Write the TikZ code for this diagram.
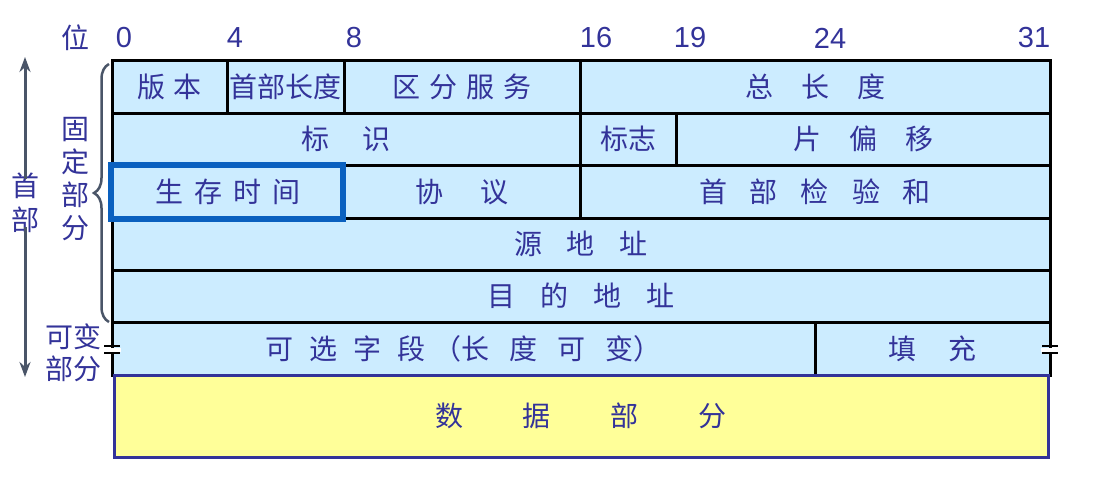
\documentclass[tikz,border=0pt]{standalone}
\usepackage{fontspec}
\setmainfont{Liberation Sans}
\newfontfamily\cjk{Noto Sans CJK SC}
\usetikzlibrary{decorations.pathreplacing,arrows.meta}
\definecolor{cellblue}{HTML}{CCECFF}
\definecolor{txt}{HTML}{333399}
\definecolor{datay}{HTML}{FFFF99}
\definecolor{hl}{HTML}{0A60BF}
\definecolor{slate}{HTML}{4A5568}
\newcommand\gp[1]{\hspace{#1pt}}
\begin{document}
\begin{tikzpicture}[x=1pt,y=-1pt,
  cell/.style={draw=black,line width=3pt,fill=cellblue,inner sep=0pt,text=txt,
    font=\cjk\fontsize{28}{28}\selectfont},
  num/.style={text=txt,font=\fontsize{29}{29}\selectfont,inner sep=0pt},
  lbl/.style={text=txt,font=\cjk\fontsize{28}{28}\selectfont,inner sep=0pt},
  brk/.style={line width=2.5pt,black}]
\useasboundingbox (0,0) rectangle (1111,479);
% top labels
\node[lbl] (wei) at (75,38) {位};
\node[num] (n0) at (124,38) {0};
\node[num] (n4) at (235,38) {4};
\node[num] (n8) at (354,38) {8};
\node[num] (n16) at (596,38) {16};
\node[num] (n19) at (690,38) {19};
\node[num] (n24) at (830,38) {24};
\node[num] (n31) at (1034,38) {31};
% row 1
\node[cell,minimum width=115,minimum height=53] (ver) at (169.5,86.5) {版\gp{9}本};
\node[cell,minimum width=117,minimum height=53] (ihl) at (285.5,86.5) {首部长度};
\node[cell,minimum width=236,minimum height=53] (tos) at (462,86.5) {区\gp{9}分\gp{9}服\gp{9}务};
\node[cell,minimum width=470,minimum height=53] (tlen) at (815,86.5) {总\gp{28}长\gp{28}度};
% row 2
\node[cell,minimum width=468,minimum height=52] (id) at (346,139) {标\gp{33}识};
\node[cell,minimum width=96,minimum height=52] (flag) at (628,139) {标志};
\node[cell,minimum width=374,minimum height=52] (frag) at (863,139) {片\gp{28}偏\gp{28}移};
% row 3
\node[cell,minimum width=232,minimum height=53] (ttl) at (228,191.5) {生\gp{11}存\gp{11}时\gp{11}间};
\node[cell,minimum width=236,minimum height=53] (proto) at (462,191.5) {协\gp{37}议};
\node[cell,minimum width=470,minimum height=53] (csum) at (815,191.5) {首\gp{23}部\gp{23}检\gp{23}验\gp{23}和};
% row 4,5
\node[cell,minimum width=938,minimum height=52] (src) at (581,244) {源\gp{25}地\gp{25}址};
\node[cell,minimum width=938,minimum height=52] (dst) at (581,296) {目\gp{25}的\gp{25}地\gp{25}址};
% row 6
\node[cell,minimum width=703,minimum height=53] (opt) at (463.5,348.5) {可\gp{16}选\gp{16}字\gp{16}段\gp{8}（长\gp{20}度\gp{20}可\gp{20}变）};
\node[cell,minimum width=235,minimum height=53] (pad) at (932.5,348.5) {填\gp{32}充};
% data
\node[draw=txt,line width=3pt,fill=datay,minimum width=934,minimum height=82,inner sep=0pt,
  text=txt,font=\cjk\fontsize{28}{28}\selectfont] (data) at (581,416) {数\gp{60}据\gp{60}部\gp{60}分};
% highlight box
\node[draw=hl,line width=6pt,minimum width=232,minimum height=54,inner sep=0pt] (hlbox) at (227,192) {};
% break markers
\fill[white] (103,347.5) rectangle (121,351.5);
\draw[brk] (104,346) -- (120,346) (104,353) -- (120,353);
\fill[white] (1041,347.5) rectangle (1059,351.5);
\draw[brk] (1042,346) -- (1058,346) (1042,353) -- (1058,353);
% brace
\draw[slate,line width=2.5pt,decorate,decoration={brace,amplitude=15pt}]
  (109,322) -- (109,64);
% side labels
\node[lbl] (gu) at (75,130) {固};
\node[lbl] (ding) at (75,162) {定};
\node[lbl] (bu1) at (75,195) {部};
\node[lbl] (fen1) at (75,228) {分};
\node[lbl] (kebian) at (73,337) {可变};
\node[lbl] (bufen) at (73,369) {部分};
\node[lbl] (shou) at (25,186) {首};
\node[lbl] (bu2) at (25,220) {部};
\coordinate (atop) at (25,57);
\coordinate (abot) at (25,377);
\draw[slate,line width=3pt,-{Stealth[length=15pt,width=11pt]}] ([yshift=-6pt]shou.north) -- (atop);
\draw[slate,line width=3pt,-{Stealth[length=15pt,width=11pt]}] ([yshift=6pt]bu2.south) -- (abot);
\end{tikzpicture}
\end{document}
